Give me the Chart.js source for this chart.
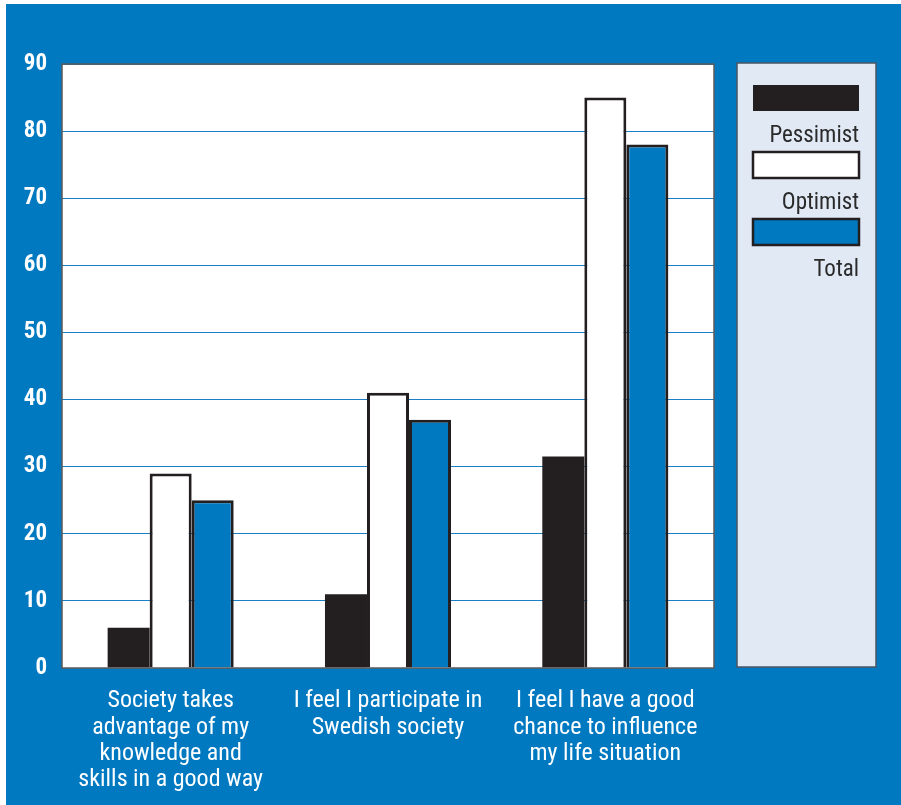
<!DOCTYPE html>
<html>
<head>
<meta charset="utf-8">
<script src="https://cdn.jsdelivr.net/npm/chart.js@4"></script>
<style>
  html, body { margin: 0; padding: 0; background: #ffffff; }
  #wrap { width: 901px; height: 805px; }
</style>
</head>
<body>
<div id="wrap"><canvas id="attitudes" width="901" height="805"></canvas></div>
<script>
var labels = [
  ["Society takes", "advantage of my", "knowledge and", "skills in a good way"],
  ["I feel I participate in", "Swedish society"],
  ["I feel I have a good", "chance to influence", "my life situation"]
];
var pessimist = [6, 11, 31.5];
var optimist = [29, 41, 85];
var total = [25, 37, 78];
var yTicks = [0, 10, 20, 30, 40, 50, 60, 70, 80, 90];

var BLUE = '#0079c1';
var DARK = '#231f20';
var FONT = '"Liberation Sans Narrow", "Roboto Condensed", Roboto, sans-serif';

// blue page, white plot field and the side panel with the key
var frame = {
  id: 'frame',
  beforeDraw: function (chart) {
    var c = chart.ctx, a = chart.chartArea;
    c.save();
    c.fillStyle = '#ffffff';
    c.fillRect(0, 0, chart.width, chart.height);
    c.fillStyle = BLUE;
    c.fillRect(6, 4, chart.width - 6, chart.height - 4);
    c.fillStyle = '#ffffff';
    c.fillRect(a.left, a.top, a.right - a.left, a.bottom - a.top);
    c.restore();
  },
  afterDatasetsDraw: function (chart) {
    var c = chart.ctx, a = chart.chartArea;
    c.save();
    c.strokeStyle = '#5a5a5a';
    c.lineWidth = 1.5;
    c.strokeRect(a.left, a.top, a.right - a.left, a.bottom - a.top);
    c.restore();
  },
  afterDraw: function (chart) {
    var c = chart.ctx;
    c.save();
    c.fillStyle = '#e1e9f5';
    c.fillRect(737, 63, 139, 604);
    c.strokeStyle = '#4b5563';
    c.lineWidth = 1.5;
    c.strokeRect(737, 63, 139, 604);
    c.font = '23px ' + FONT;
    c.textAlign = 'right';
    c.textBaseline = 'alphabetic';
    chart.data.datasets.forEach(function (ds, i) {
      var y = 85 + i * 67;
      c.fillStyle = ds.backgroundColor;
      c.fillRect(753, y, 106, 26);
      if (ds.borderWidth) {
        c.strokeStyle = ds.borderColor;
        c.lineWidth = 2.5;
        c.strokeRect(753, y, 106, 26);
      }
      c.fillStyle = '#2a2a2a';
      c.fillText(ds.label, 859, y + 57);
    });
    c.restore();
  }
};

new Chart(document.getElementById('attitudes').getContext('2d'), {
  type: 'bar',
  data: {
    labels: labels,
    datasets: [{
      label: 'Pessimist',
      data: pessimist,
      backgroundColor: DARK,
      borderWidth: 0
    }, {
      label: 'Optimist',
      data: optimist,
      backgroundColor: '#ffffff',
      borderColor: DARK,
      borderWidth: 3
    }, {
      label: 'Total',
      data: total,
      backgroundColor: BLUE,
      borderColor: DARK,
      borderWidth: 3
    }]
  },
  options: {
    responsive: false,
    animation: false,
    layout: { padding: { top: 64, right: 187, left: 0, bottom: 0 } },
    datasets: { bar: { categoryPercentage: 0.58, barPercentage: 1 } },
    plugins: {
      legend: { display: false },
      tooltip: { enabled: false }
    },
    scales: {
      x: {
        afterFit: function (s) { s.height = 137; },
        grid: { display: false },
        border: { display: false },
        ticks: {
          color: '#ffffff',
          font: { family: FONT, size: 24, lineHeight: 1.1 },
          padding: 12,
          maxRotation: 0,
          autoSkip: false
        }
      },
      y: {
        min: 0,
        max: 90,
        afterFit: function (s) { s.width = 62; },
        afterBuildTicks: function (s) {
          s.ticks = yTicks.map(function (v) { return { value: v }; });
        },
        grid: { color: '#1a7fc4', lineWidth: 1, drawTicks: false },
        border: { display: false },
        ticks: {
          color: '#ffffff',
          font: { family: FONT, size: 23, weight: 'bold' },
          padding: 15
        }
      }
    }
  },
  plugins: [frame]
});
</script>
</body>
</html>
